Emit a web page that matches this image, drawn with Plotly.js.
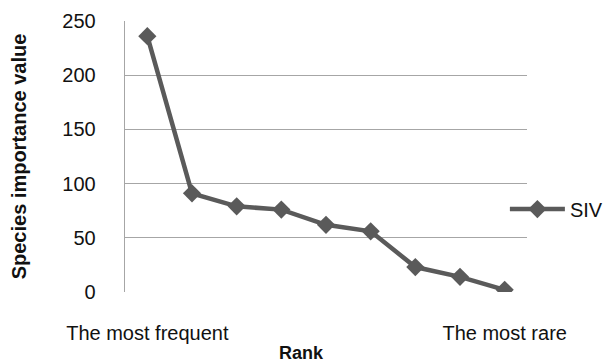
<!DOCTYPE html>
<html>
<head>
<meta charset="utf-8">
<script src="https://cdn.plot.ly/plotly-3.0.1.min.js"></script>
<style>html,body{margin:0;padding:0;background:#fff;}#chart{width:604px;height:363px;}</style>
</head>
<body>
<div id="chart"></div>
<script>
var rank = [1, 2, 3, 4, 5, 6, 7, 8, 9];
var siv = [236, 91, 79, 76, 62, 56, 23, 14, 2];
var rankTickVals = [1, 9];
var rankTickText = ["The most frequent", "The most rare"];
var seriesName = "SIV";

var FONT = "Liberation Sans, Arial, sans-serif";

var trace = {
  x: rank, y: siv, type: "scatter", mode: "lines+markers", name: seriesName,
  line: {color: "#5a5a5a", width: 4.5},
  marker: {symbol: "diamond", size: 14, color: "#5a5a5a"}
};

var layout = {
  width: 604, height: 363,
  margin: {l: 125, r: 77, t: 21, b: 71, autoexpand: false},
  paper_bgcolor: "#ffffff", plot_bgcolor: "#ffffff",
  font: {family: FONT, color: "#111", size: 20},
  showlegend: true,
  legend: {x: 0.945, y: 0.306, xanchor: "left", yanchor: "middle", itemwidth: 55, bgcolor: "rgba(0,0,0,0)", font: {size: 20, family: FONT}},
  xaxis: {
    range: [0.5, 9.5], tickmode: "array", tickvals: rankTickVals, ticktext: rankTickText,
    showgrid: false, zeroline: false, showline: false, ticks: "", ticklabelstandoff: 27,
    tickfont: {size: 20, family: FONT}
  },
  yaxis: {
    range: [0, 250], dtick: 50, tick0: 0, showgrid: true, gridcolor: "#a6a6a6", gridwidth: 1.3,
    zeroline: false, showline: true, linecolor: "#a6a6a6", linewidth: 1.3, ticks: "", ticklabelstandoff: 24,
    tickfont: {size: 20, family: FONT},
    title: {text: "<b>Species importance value</b>", font: {size: 20, family: FONT}, standoff: 30}
  },
  annotations: [{
    text: "<b>Rank</b>", xref: "paper", yref: "paper", x: 0.438, y: -0.225, xanchor: "center", yanchor: "middle",
    showarrow: false, font: {size: 18, family: FONT}
  }]
};

Plotly.newPlot("chart", [trace], layout, {displayModeBar: false, staticPlot: true});
</script>
</body>
</html>
